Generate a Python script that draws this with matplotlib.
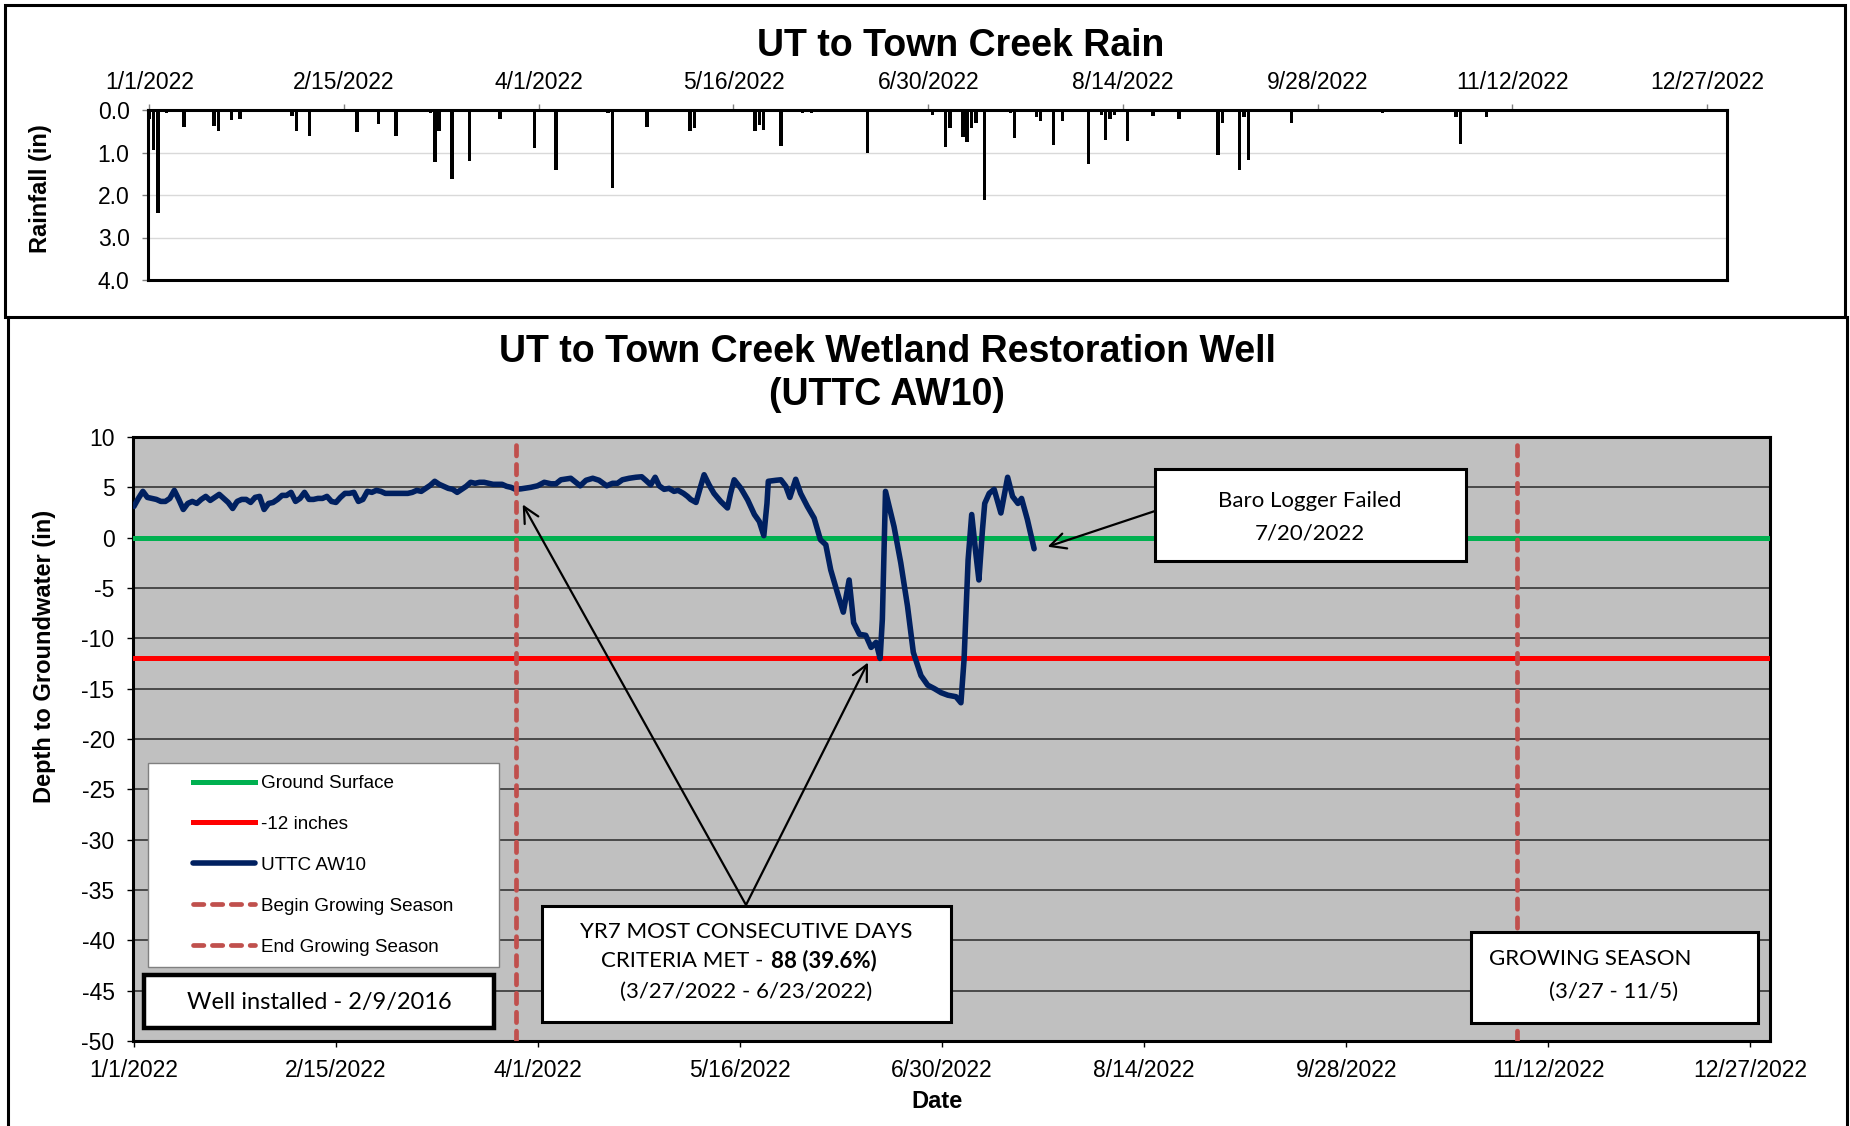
import matplotlib
matplotlib.use("Agg")
import matplotlib.pyplot as plt
from matplotlib.patches import Rectangle
from matplotlib.lines import Line2D

plt.rcParams['font.family'] = ['Liberation Sans', 'DejaVu Sans']
plt.rcParams['axes.unicode_minus'] = False

# ---- data (days counted from 1/1/2022) ----
tick_days = [0, 45, 90, 135, 180, 225, 270, 315, 360]
tick_labels = ['1/1/2022', '2/15/2022', '4/1/2022', '5/16/2022', '6/30/2022',
               '8/14/2022', '9/28/2022', '11/12/2022', '12/27/2022']

rain_day = [0, 1, 2, 4, 8, 15, 16, 19, 21, 28, 33, 34, 37, 48, 53, 57, 65, 66,
            67, 70, 74, 81, 89, 94, 106, 107, 115, 125, 126, 132, 140, 141, 142,
            146, 151, 153, 163, 166, 181, 184, 185, 188, 189, 190, 191, 193, 199,
            200, 205, 206, 209, 211, 217, 220, 221, 222, 223, 226, 232, 238, 247,
            248, 252, 253, 254, 264, 285, 302, 303, 309]
rain_in = [0.20, 0.93, 2.42, 0.08, 0.39, 0.38, 0.49, 0.24, 0.21, 0.05, 0.14, 0.49,
           0.61, 0.51, 0.33, 0.61, 0.08, 1.22, 0.49, 1.62, 1.20, 0.21, 0.89, 1.41,
           0.08, 1.84, 0.39, 0.49, 0.42, 0.05, 0.49, 0.35, 0.47, 0.85, 0.08, 0.06,
           0.05, 1.02, 0.12, 0.87, 0.43, 0.63, 0.76, 0.42, 0.31, 2.12, 0.08, 0.67,
           0.16, 0.25, 0.82, 0.27, 1.28, 0.12, 0.71, 0.20, 0.12, 0.74, 0.13, 0.21,
           1.07, 0.31, 1.41, 0.16, 1.18, 0.31, 0.06, 0.17, 0.80, 0.16]

well_day = list(range(0, 86)) + [
    86.2, 88.4, 89.9, 91.4, 92.9, 94.0, 95.1, 97.3, 99.4, 100.7, 102.2, 103.6,
    105.3, 106.6, 107.7, 108.8, 110.3, 111.8, 113.1, 114.0, 115.1, 116.1, 117.0,
    118.1, 119.2, 120.3, 121.2, 122.4, 123.3, 124.0, 125.2, 126.1, 127.0, 128.1,
    129.2, 130.7, 132.2, 132.9, 133.7, 135.2, 136.7, 138.2, 139.3, 140.3, 141.0,
    141.3, 143.0, 144.1, 145.2, 146.1, 147.4, 148.5, 150.0, 151.5, 152.9, 154.1,
    155.2, 156.7, 158.0, 159.3, 160.3, 161.6, 163.0, 164.2, 165.3, 166.2, 166.7,
    167.4, 169.3, 170.8, 172.3, 173.6, 175.3, 176.8, 178.3, 179.8, 181.3, 183.1,
    184.2, 184.9, 185.8, 186.6, 187.5, 188.2, 189.0, 189.5, 190.5, 191.6, 193.1,
    194.6, 195.7, 196.9, 197.7, 199.0, 200.5]
well_depth = [
    3.1, 3.9, 4.6, 4.0, 3.9, 3.8, 3.6, 3.6, 3.9, 4.7,
    3.8, 2.8, 3.4, 3.6, 3.4, 3.8, 4.1, 3.7, 4.0, 4.3,
    3.9, 3.5, 2.9, 3.6, 3.8, 3.8, 3.5, 4.0, 4.1, 2.8,
    3.4, 3.5, 3.8, 4.2, 4.2, 4.5, 3.6, 3.9, 4.5, 3.8,
    3.8, 3.9, 3.9, 4.1, 3.6, 3.5, 4.0, 4.4, 4.4, 4.5,
    3.6, 3.8, 4.6, 4.5, 4.7, 4.6, 4.4, 4.4, 4.4, 4.4,
    4.4, 4.4, 4.5, 4.7, 4.6, 4.9, 5.2, 5.6, 5.3, 5.1,
    4.9, 4.8, 4.5, 4.8, 5.1, 5.5, 5.4, 5.5, 5.5, 5.4,
    5.3, 5.3, 5.3, 5.1, 5.0, 4.8,
    4.85, 5.0, 5.15, 5.5, 5.35, 5.35, 5.75, 5.9, 5.15, 5.7, 5.9, 5.7,
    5.15, 5.4, 5.4, 5.75, 5.9, 6.0, 6.05, 5.7, 5.25, 6.0, 5.15,
    4.8, 4.9, 4.6, 4.7, 4.4, 4.1, 3.8, 3.5, 4.9, 6.25, 5.25,
    4.4, 3.6, 2.95, 4.4, 5.75, 4.9, 3.75, 2.3, 1.6, 0.2, 3.4,
    5.6, 5.7, 5.75, 5.1, 4.0, 5.8, 4.4, 3.1, 1.95, -0.2, -0.7,
    -3.2, -5.5, -7.4, -4.2, -8.45, -9.6, -9.7, -10.9, -10.4, -12.0, -8.1,
    4.6, 1.1, -2.5, -6.8, -11.4, -13.7, -14.65, -15.0, -15.4, -15.65, -15.8,
    -16.4, -12.1, -2.2, 2.3, -1.5, -4.2, 0.8, 3.4, 4.4, 4.8, 2.45,
    6.0, 4.1, 3.4, 3.9, 1.8, -1.1]

ground_surface = 0
criteria_depth = -12
begin_growing = 85    # 3/27/2022
end_growing = 308     # 11/5/2022

# ---- figure in pixel layout ----
W, H = 1850, 1126


def fx(x):
    return x / W


def fy(y):
    return 1 - y / H


fig = plt.figure(figsize=(W / 100, H / 100), dpi=100)
fig.patch.set_facecolor('white')

# outer frames
fig.add_artist(Rectangle((fx(5), fy(317)), fx(1845) - fx(5), fy(5) - fy(317),
                         transform=fig.transFigure, fill=False, lw=2.2, ec='black'))
fig.add_artist(Line2D([fx(8), fx(8)], [fy(317), 0], transform=fig.transFigure,
                      lw=2.2, color='black'))
fig.add_artist(Line2D([fx(1847), fx(1847)], [fy(317), 0], transform=fig.transFigure,
                      lw=2.2, color='black'))

# ---- rain chart ----
ax1 = fig.add_axes([fx(148), fy(280), fx(1727) - fx(148), fy(110) - fy(280)])
ax1.bar(rain_day, rain_in, width=0.8, color='black', align='center', zorder=3)
ax1.set_xlim(-0.3, 364.6)
ax1.set_ylim(4, 0)
ax1.set_yticks([0, 1, 2, 3, 4])
ax1.set_yticklabels(['0.0', '1.0', '2.0', '3.0', '4.0'])
ax1.set_xticks(tick_days)
ax1.set_xticklabels(tick_labels)
ax1.xaxis.tick_top()
ax1.tick_params(axis='both', labelsize=16.5, length=4.3, width=1, color='#808080',
                direction='out', pad=9)
ax1.tick_params(axis='x', pad=7)
ax1.grid(axis='y', color='#D9D9D9', lw=1)
ax1.set_axisbelow(True)
for s in ax1.spines.values():
    s.set_linewidth(2.2)
fig.text(fx(41), fy(189), 'Rainfall (in)', fontsize=17, fontweight='bold',
         rotation=90, ha='center', va='center')
fig.text(fx(961), fy(46), 'UT to Town Creek Rain', fontsize=27, fontweight='bold',
         ha='center', va='center')

# ---- well chart ----
ax2 = fig.add_axes([fx(133), fy(1041), fx(1770) - fx(133), fy(437) - fy(1041)])
ax2.set_facecolor('#C0C0C0')
ax2.axhline(ground_surface, color='#00B050', lw=3.6, label='Ground Surface', zorder=3)
ax2.axhline(criteria_depth, color='#FF0000', lw=3.6, label='-12 inches', zorder=3)
ax2.plot(well_day, well_depth, color='#002060', lw=4, label='UTTC AW10', zorder=4,
         solid_joinstyle='round', solid_capstyle='round')
ax2.axvline(begin_growing, color='#C0504D', lw=3.4, ls=(0, (2.2, 1.8)),
            dash_capstyle='round', label='Begin Growing Season', zorder=5)
ax2.axvline(end_growing, color='#C0504D', lw=3.4, ls=(0, (2.2, 1.8)),
            dash_capstyle='round', label='End Growing Season', zorder=5)
ax2.set_xlim(-0.2, 364.4)
ax2.set_ylim(-50, 10)
ax2.set_yticks(range(-50, 11, 5))
ax2.set_xticks(tick_days)
ax2.set_xticklabels(tick_labels)
ax2.tick_params(axis='both', labelsize=16.5, length=4.3, width=1, direction='out', pad=9)
ax2.grid(axis='y', color='#404040', lw=1.3)
ax2.grid(axis='x', visible=False)
ax2.set_axisbelow(True)
for s in ax2.spines.values():
    s.set_linewidth(2.2)
fig.text(fx(45), fy(656), 'Depth to Groundwater (in)', fontsize=17, fontweight='bold',
         rotation=90, ha='center', va='center')
fig.text(fx(937), fy(1101), 'Date', fontsize=17, fontweight='bold', ha='center',
         va='center')
fig.text(fx(887), fy(352), 'UT to Town Creek Wetland Restoration Well', fontsize=27,
         fontweight='bold', ha='center', va='center')
fig.text(fx(887), fy(395), '(UTTC AW10)', fontsize=27, fontweight='bold',
         ha='center', va='center')

# legend with its own white box
ax2.add_patch(Rectangle((fx(148), fy(967)), fx(499) - fx(148), fy(763) - fy(967),
                        transform=fig.transFigure, clip_on=False, fc='white',
                        ec='#808080', lw=1, zorder=6))
leg = ax2.legend(loc='upper left', bbox_to_anchor=(fx(193), fy(775)),
                 bbox_transform=fig.transFigure, frameon=False, fontsize=13.6,
                 borderpad=0, borderaxespad=0, handlelength=3.3, handletextpad=0.3,
                 labelspacing=1.25)
leg.set_zorder(7)

# arrows
arrow = dict(arrowstyle='->', lw=1.6, color='black', mutation_scale=28,
             shrinkA=0, shrinkB=0)
ax2.annotate('', xy=(86.6, 3.3), xytext=(fx(746), fy(905)),
             textcoords='figure fraction', arrowprops=arrow, zorder=6)
ax2.annotate('', xy=(163.5, -12.4), xytext=(fx(746), fy(905)),
             textcoords='figure fraction', arrowprops=arrow, zorder=6)
ax2.annotate('', xy=(203.5, -0.9), xytext=(fx(1155), fy(511)),
             textcoords='figure fraction', arrowprops=arrow, zorder=6)


def note_box(x0, y0, x1, y1, lw):
    ax2.add_patch(Rectangle((fx(x0), fy(y1)), fx(x1) - fx(x0), fy(y0) - fy(y1),
                            transform=fig.transFigure, clip_on=False, fc='white',
                            ec='black', lw=lw, zorder=8))


def note_text(x, y, s, ha='center', weight='normal', size=16):
    ax2.text(fx(x), fy(y), s, transform=fig.transFigure, ha=ha, va='center',
             fontsize=size, fontweight=weight, family=['Lato', 'DejaVu Sans'],
             zorder=9)


note_box(1155, 469, 1466, 561, 2.2)
note_text(1310, 501, 'Baro Logger Failed')
note_text(1310, 533, '7/20/2022')

note_box(542, 906, 951, 1022, 2.2)
note_text(746, 932, 'YR7 MOST CONSECUTIVE DAYS')
note_text(769, 961, 'CRITERIA MET - ', ha='right')
note_text(771, 961, '88 (39.6%)', ha='left', weight='bold')
note_text(746, 992, '(3/27/2022 - 6/23/2022)')

note_box(144, 975, 494, 1028, 3.2)
note_text(319, 1002, 'Well installed - 2/9/2016', size=17)

note_box(1471, 932, 1758, 1023, 2.2)
note_text(1489, 959, 'GROWING SEASON', ha='left')
note_text(1614, 992, '(3/27 - 11/5)')

fig.savefig('out.png', dpi=100)
